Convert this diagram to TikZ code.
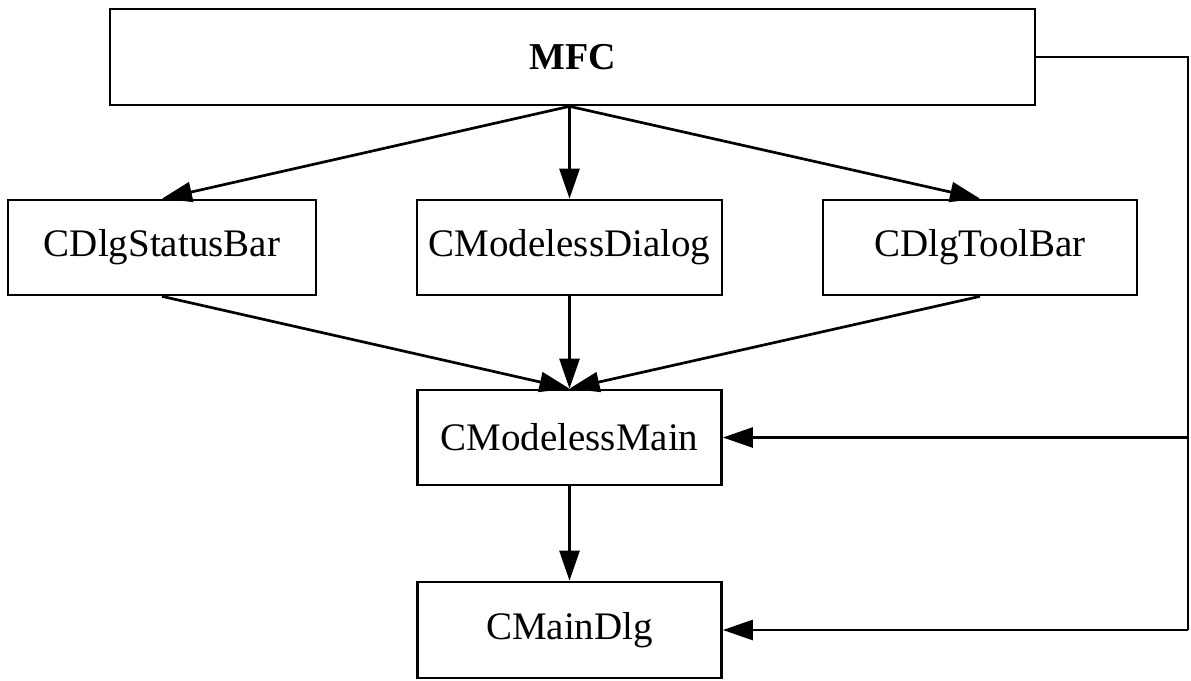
\documentclass[tikz,border=0pt]{standalone}
\usepackage{fontspec}
\setmainfont{Liberation Serif}
\usetikzlibrary{arrows.meta}
\begin{document}
\begin{tikzpicture}[x=1pt,y=-1pt,
  box/.style={draw, line width=2.7pt, rectangle, inner sep=0pt,
    font=\fontsize{39}{45}\selectfont},
  link/.style={line width=2.7pt, -{Triangle[length=30pt,width=20pt]}},
  plain/.style={line width=2.7pt}]
\useasboundingbox (0,0) rectangle (1191,680);
% classes
\node[box, minimum width=925pt, minimum height=96pt, font=\fontsize{38}{44}\selectfont\bfseries] (mfc) at (572.5,57) {MFC};
\node[box, minimum width=308pt, minimum height=95pt] (sbar) at (162,247.5) {CDlgStatusBar};
\node[box, minimum width=305pt, minimum height=95pt] (mdlg) at (569.5,247.5) {CModelessDialog};
\node[box, minimum width=314pt, minimum height=95pt] (tbar) at (980,247.5) {CDlgToolBar};
\node[box, minimum width=304pt, minimum height=95pt] (mmain) at (569.5,437.5) {CModelessMain};
\node[box, minimum width=304pt, minimum height=96pt] (maindlg) at (569.5,630) {CMainDlg};
\coordinate (src) at (mfc.south -| mdlg.north);
\coordinate (rx) at (1188,0);
% derivation arrows
\draw[link] (src) -- (sbar.north);
\draw[link] (src) -- (mdlg.north);
\draw[link] (src) -- (tbar.north);
\draw[link] (sbar.south) -- (mmain.north);
\draw[link] (mdlg.south) -- (mmain.north);
\draw[link] (tbar.south) -- (mmain.north);
\draw[link] (mmain.south) -- (maindlg.north);
% side line from MFC
\draw[plain, line join=miter] (mfc.east) -| (rx |- maindlg.east);
\draw[link] (rx |- mmain.east) -- (mmain.east);
\draw[link] (rx |- maindlg.east) -- (maindlg.east);
\end{tikzpicture}
\end{document}
